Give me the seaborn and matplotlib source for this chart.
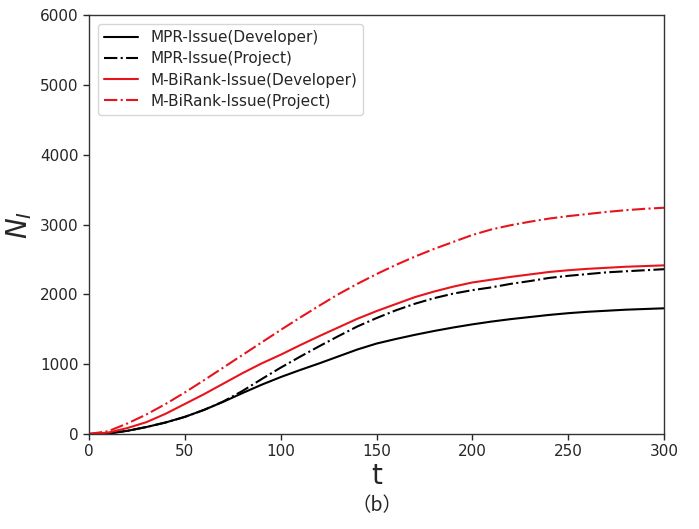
import matplotlib
matplotlib.use("Agg")
import matplotlib.pyplot as plt
import seaborn as sns
import pandas as pd

t = [0, 10, 20, 30, 40, 50, 60, 70, 80, 90, 100, 110, 120, 130, 140, 150,
     160, 170, 180, 190, 200, 210, 220, 230, 240, 250, 260, 270, 280, 290, 300]

mpr_dev = [0, 8, 45, 100, 165, 245, 345, 460, 585, 705, 815, 915, 1010, 1110,
           1210, 1295, 1360, 1420, 1475, 1525, 1570, 1610, 1645, 1675, 1705,
           1730, 1750, 1765, 1780, 1790, 1800]
mpr_proj = [0, 8, 45, 100, 165, 245, 345, 465, 615, 785, 950, 1105, 1255, 1400,
            1540, 1660, 1770, 1865, 1945, 2010, 2060, 2100, 2150, 2190, 2235,
            2265, 2290, 2315, 2330, 2345, 2360]
mbr_dev = [0, 20, 85, 170, 290, 430, 570, 720, 870, 1010, 1135, 1270, 1400, 1525,
           1650, 1760, 1860, 1960, 2040, 2110, 2170, 2210, 2250, 2285, 2320,
           2345, 2365, 2380, 2395, 2405, 2415]
mbr_proj = [0, 40, 150, 280, 430, 595, 770, 950, 1130, 1310, 1490, 1665, 1835,
            2000, 2150, 2290, 2420, 2540, 2650, 2750, 2850, 2930, 2990, 3040,
            3085, 3120, 3150, 3180, 3205, 3225, 3240]

labels = ["MPR-Issue(Developer)", "MPR-Issue(Project)",
          "M-BiRank-Issue(Developer)", "M-BiRank-Issue(Project)"]
series = [mpr_dev, mpr_proj, mbr_dev, mbr_proj]
colors = ["black", "black", "#e8141c", "#e8141c"]
styles = ["-", "-.", "-", "-."]

sns.set_style("ticks")
plt.rcParams['font.family'] = ['DejaVu Sans']

fig = plt.figure(figsize=(6.99, 5.29), dpi=100)
ax = fig.add_axes([0.1273, 0.1796, 0.8227, 0.792])

for lab, vals, c, ls in zip(labels, series, colors, styles):
    df = pd.DataFrame({"t": t, "N": vals})
    sns.lineplot(data=df, x="t", y="N", ax=ax, color=c, linestyle=ls,
                 linewidth=1.5, label=lab)

ax.set_xlim(0, 300)
ax.set_ylim(0, 6000)
ax.set_xticks([0, 50, 100, 150, 200, 250, 300])
ax.set_yticks([0, 1000, 2000, 3000, 4000, 5000, 6000])
ax.tick_params(labelsize=11, direction="out", length=4, width=1)
ax.set_xlabel("t", fontsize=20, labelpad=2)
ax.set_ylabel(r"$N_I$", fontsize=20, labelpad=4)
for s in ax.spines.values():
    s.set_color("#333333")
    s.set_linewidth(1.0)

leg = ax.legend(loc="upper left", fontsize=11, frameon=True, fancybox=True,
                handlelength=2.2, borderaxespad=0.6, labelspacing=0.4)
leg.get_frame().set_edgecolor("#cccccc")

fig.text(0.54, 0.045, "（b）", ha="center", va="center", fontsize=14,
         family=["Noto Sans CJK SC", "DejaVu Sans"])

fig.savefig("out.png", dpi=100)
